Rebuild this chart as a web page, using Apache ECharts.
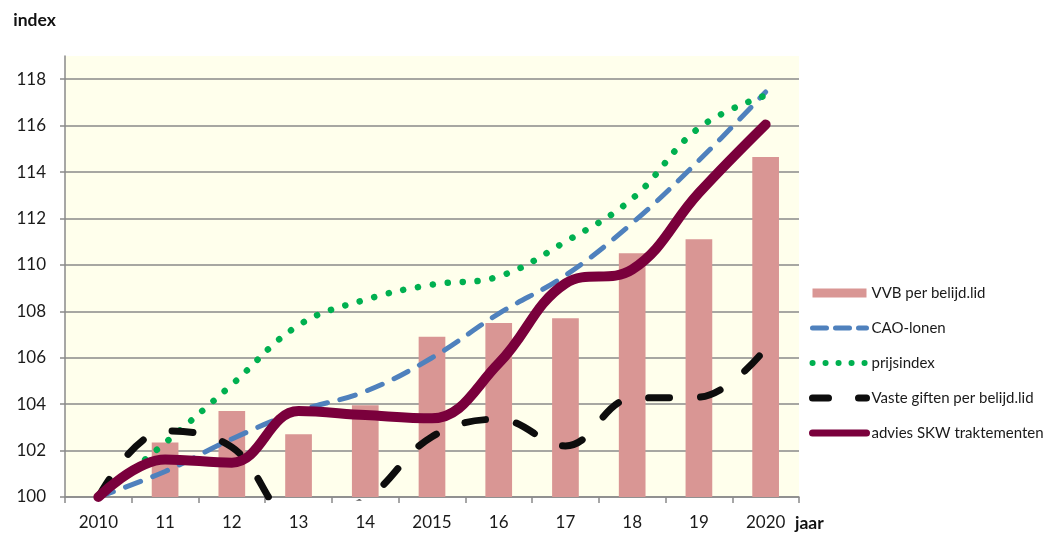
<!DOCTYPE html>
<html>
<head>
<meta charset="utf-8">
<script src="https://cdn.jsdelivr.net/npm/echarts@6/dist/echarts.min.js"></script>
<style>
html,body{margin:0;padding:0;background:#fff;}
#c{width:1045px;height:535px;}
</style>
</head>
<body>
<div id="c"></div>
<script>
const years = ['2010','11','12','13','14','2015','16','17','18','19','2020'];
const vvb = [100, 102.35, 103.7, 102.7, 103.95, 106.9, 107.5, 107.7, 110.5, 111.1, 114.65];
const caoLonen = [100, 101.1, 102.5, 103.7, 104.55, 106.0, 107.9, 109.55, 111.8, 114.5, 117.45];
const prijsindex = [100, 102.33, 104.84, 107.4, 108.5, 109.15, 109.5, 111.0, 112.85, 115.9, 117.3];
const vasteGiften = [100, 102.85, 102.15, 99.0, 99.9, 102.6, 103.35, 102.2, 104.25, 104.3, 106.4];
const adviesSKW = [100, 101.62, 101.48, 103.7, 103.53, 103.39, 105.76, 109.2, 109.8, 113.1, 116.05];
const yTicks = [100, 102, 104, 106, 108, 110, 112, 114, 116, 118];

const FONT = 'Lato';
const GRID_GRAY = '#8a8a8a';
const gridColors = yTicks.map(() => GRID_GRAY).concat(['rgba(0,0,0,0)']);
const hideSym = {opacity: 0};

const chart = echarts.init(document.getElementById('c'));
chart.setOption({
  animation: false,
  backgroundColor: '#ffffff',
  textStyle: {fontFamily: FONT},
  grid: {left: 65, right: 246, top: 56, bottom: 38, show: true, backgroundColor: '#FFFFEC', borderWidth: 0},
  legend: {
    orient: 'vertical', left: 809, top: 285, padding: 0,
    itemWidth: 54, itemHeight: 9, itemGap: 19,
    textStyle: {fontFamily: FONT, fontSize: 15, color: '#1a1a1a', lineHeight: 16},
    data: [
      {name: 'VVB per belijd.lid', icon: 'rect'},
      {name: 'CAO-lonen', itemStyle: hideSym, lineStyle: {width: 5, type: [14, 9], cap: 'round'}},
      {name: 'prijsindex', itemStyle: hideSym, lineStyle: {width: 6, type: [0.1, 12.9], cap: 'round'}},
      {name: 'Vaste giften per belijd.lid', itemStyle: hideSym, lineStyle: {width: 7, type: [16, 30], cap: 'round'}},
      {name: 'advies SKW traktementen', itemStyle: hideSym, lineStyle: {width: 7, cap: 'round'}}
    ]
  },
  graphic: [
    {type: 'text', left: 795, top: 514, style: {text: 'jaar', fontFamily: FONT, fontSize: 17.5, fontWeight: 'bold', fill: '#111'}}
  ],
  xAxis: {
    type: 'category', data: years, boundaryGap: true,
    axisLine: {show: true, lineStyle: {color: GRID_GRAY, width: 1.5}},
    axisTick: {show: true, length: 6, alignWithLabel: false, lineStyle: {color: GRID_GRAY, width: 1.5}},
    axisLabel: {fontFamily: FONT, fontSize: 17, color: '#1a1a1a', margin: 17, interval: 0},
    splitLine: {show: false}
  },
  yAxis: {
    type: 'value', min: 100, max: 119, interval: 2,
    name: 'index', nameLocation: 'end', nameGap: 36,
    nameTextStyle: {fontFamily: FONT, fontSize: 17.5, fontWeight: 'bold', color: '#111', align: 'center', verticalAlign: 'middle', padding: [0, 61, 0, 0]},
    axisLine: {show: true, lineStyle: {color: GRID_GRAY, width: 1.5}},
    axisTick: {show: true, length: 5, lineStyle: {color: GRID_GRAY, width: 1.5}},
    axisLabel: {fontFamily: FONT, fontSize: 17, color: '#1a1a1a', margin: 19, showMaxLabel: false},
    splitLine: {show: true, lineStyle: {color: gridColors, width: 1.5}}
  },
  series: [
    {
      name: 'VVB per belijd.lid', type: 'bar', data: vvb, barWidth: '40%',
      itemStyle: {color: '#D99694'}
    },
    {
      name: 'CAO-lonen', type: 'line', data: caoLonen, smooth: 0.4, symbol: 'none',
      lineStyle: {color: '#4F81BD', width: 5, type: [16, 13], cap: 'round'},
      itemStyle: {color: '#4F81BD'}
    },
    {
      name: 'prijsindex', type: 'line', data: prijsindex, smooth: 0.4, symbol: 'none',
      lineStyle: {color: '#00B050', width: 6.5, type: [0.1, 14.9], cap: 'round'},
      itemStyle: {color: '#00B050'}
    },
    {
      name: 'Vaste giften per belijd.lid', type: 'line', data: vasteGiften, smooth: 0.4, symbol: 'none',
      lineStyle: {color: '#0D0D0D', width: 7, type: [21, 31], cap: 'round'},
      itemStyle: {color: '#0D0D0D'}
    },
    {
      name: 'advies SKW traktementen', type: 'line', data: adviesSKW, smooth: 0.4, symbol: 'none',
      lineStyle: {color: '#7A003C', width: 10, cap: 'round'},
      itemStyle: {color: '#7A003C'}
    }
  ]
});
</script>
</body>
</html>
